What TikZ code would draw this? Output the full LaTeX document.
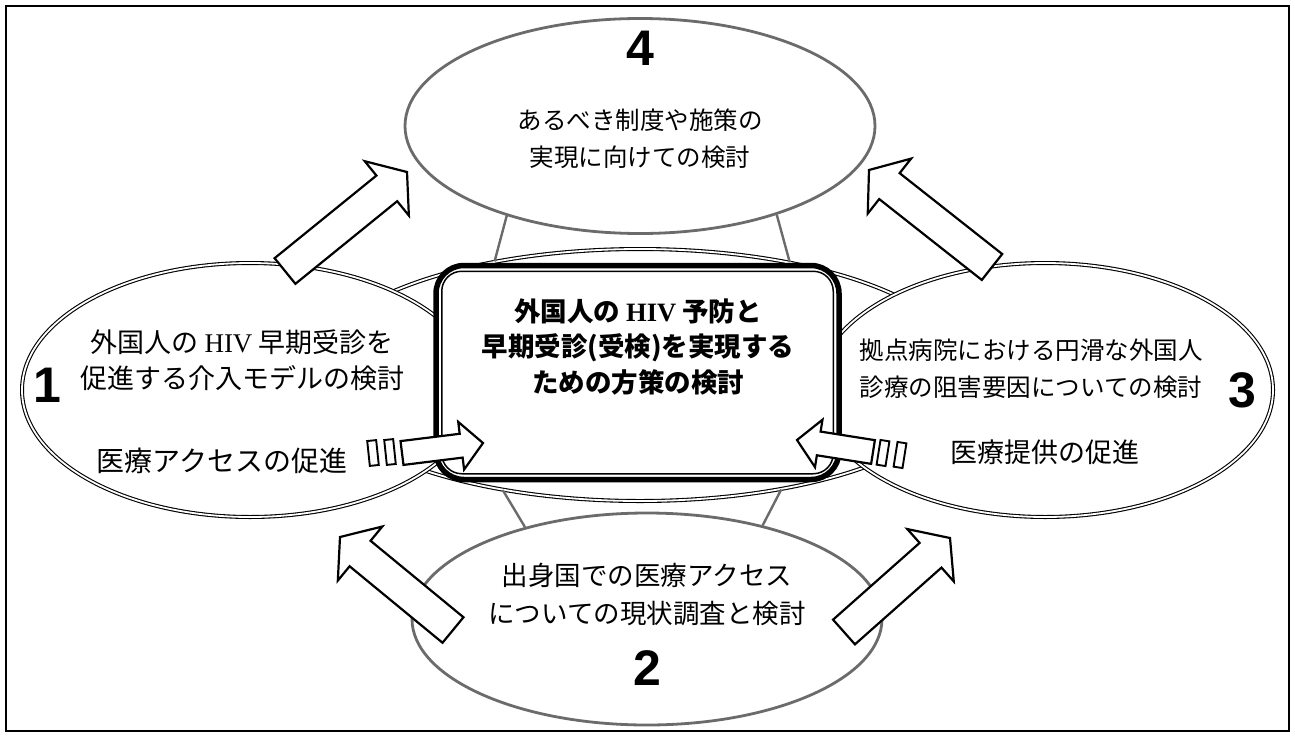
\documentclass[tikz,border=0pt]{standalone}
\usepackage{fontspec}
\usetikzlibrary{shapes.geometric,calc}
\newfontfamily\jp{Noto Sans CJK JP}
\newfontfamily\ser{Liberation Serif}
\newfontfamily\numf{Liberation Sans}
\newcommand\blockarrow[5]{%
  \coordinate (#1-#2-h) at ($(#2)!#5pt!(#1)$);
  \draw[blk] ($(#1)!#3pt!-90:(#2)$) -- ($(#1-#2-h)!#3pt!-90:(#2)$) -- ($(#1-#2-h)!#4pt!-90:(#2)$) -- (#2)
    -- ($(#1-#2-h)!#4pt!90:(#2)$) -- ($(#1-#2-h)!#3pt!90:(#2)$) -- ($(#1)!#3pt!90:(#2)$) -- cycle;}
\begin{document}
\begin{tikzpicture}[x=1pt,y=-1pt,
  dbl/.style={ellipse, draw=black, line width=1.1pt, double=white, double distance=1.8pt, fill=white, inner sep=0pt},
  grayell/.style={ellipse, draw=black!58, line width=2.8pt, fill=white, inner sep=0pt},
  conn/.style={draw=black!58, line width=2.4pt},
  blk/.style={draw=black, line width=2.2pt, fill=white, line join=miter},
  barbox/.style={draw=black, line width=1.9pt, fill=white, inner sep=0pt, minimum width=9pt, minimum height=25pt},
  txt/.style={font=\jp, align=center, inner sep=0pt},
  num/.style={font=\numf\bfseries\fontsize{50}{50}\selectfont, inner sep=0pt}]
\useasboundingbox (0,0) rectangle (1295,737);
\draw[line width=1.8pt] (6,6) rectangle (1289,731);
% ellipses
\node[dbl, minimum width=660pt, minimum height=252pt] (cell) at (640,375) {};
\node[dbl, minimum width=456pt, minimum height=254pt] (e1) at (250,390) {};
\node[dbl, minimum width=456pt, minimum height=254pt] (e3) at (1045,390) {};
\node[grayell, minimum width=470pt, minimum height=215pt] (e4) at (640,126) {};
\node[grayell, minimum width=470pt, minimum height=212pt] (e2) at (647,619) {};
% connectors
\draw[conn] (e4.214) -- (cell.142);
\draw[conn] (e4.327) -- (cell.37);
\draw[conn] (cell.220) -- (e2.143);
\draw[conn] (cell.321) -- (e2.39);
% central box
\node[draw, line width=5.5pt, rounded corners=28pt, minimum width=403pt, minimum height=214pt, fill=white, inner sep=0pt] (box) at (637.5,372.5) {};
\draw[line width=1.5pt, rounded corners=20pt] ($(box.north west)+(8.5,8.5)$) rectangle ($(box.south east)+(-8.5,-8.5)$);
\node[txt, font=\jp\bfseries\fontsize{26.5}{35.5}\selectfont] (boxt) at (638,347) {外国人の {\ser\bfseries HIV} 予防と\\早期受診(受検)を実現する\\ための方策の検討};
% texts
\node[txt, font=\jp\fontsize{27}{36}\selectfont] (t1) at (242,360) {外国人の {\ser HIV} 早期受診を\\促進する介入モデルの検討};
\node[num] (n1) at (47,385) {1};
\node[txt, font=\jp\fontsize{28}{30}\selectfont] (a1) at (222,461) {医療アクセスの促進};
\node[txt, font=\jp\fontsize{24.5}{37}\selectfont] (t3) at (1031,369) {拠点病院における円滑な外国人\\診療の阻害要因についての検討};
\node[num] (n3) at (1242,390) {3};
\node[txt, font=\jp\fontsize{27}{30}\selectfont] (a3) at (1045,452) {医療提供の促進};
\node[num] (n4) at (640,48) {4};
\node[txt, font=\jp\fontsize{24.5}{37}\selectfont] (t4) at (640,139) {あるべき制度や施策の\\実現に向けての検討};
\node[txt, font=\jp\fontsize{26.5}{38}\selectfont] (t2) at (647,594) {出身国での医療アクセス\\についての現状調査と検討};
\node[num] (n2) at (647,668) {2};
% small arrows and bars
\coordinate (la0) at (402,453); \coordinate (la1) at (483,443);
\coordinate (ra0) at (873,452); \coordinate (ra1) at (797,440);
\blockarrow{la0}{la1}{12}{24}{22}
\blockarrow{ra0}{ra1}{12}{24}{22}
\node[barbox, rotate=6] (lb1) at (373,453) {};
\node[barbox, rotate=6] (lb2) at (390,452) {};
\node[barbox, rotate=-9] (rb1) at (883,453) {};
\node[barbox, rotate=-9] (rb2) at (900,455) {};
% big arrows
\coordinate (tl0) at (285,271); \coordinate (tl1) at (407,172);
\coordinate (tr0) at (992,267); \coordinate (tr1) at (869,170);
\coordinate (bl0) at (453,630); \coordinate (bl1) at (340,537);
\coordinate (br0) at (844,632); \coordinate (br1) at (950,538);
\blockarrow{tl0}{tl1}{16.5}{35}{26}
\blockarrow{tr0}{tr1}{16.5}{35}{26}
\blockarrow{bl0}{bl1}{16.5}{35}{26}
\blockarrow{br0}{br1}{16.5}{35}{26}
\end{tikzpicture}
\end{document}
